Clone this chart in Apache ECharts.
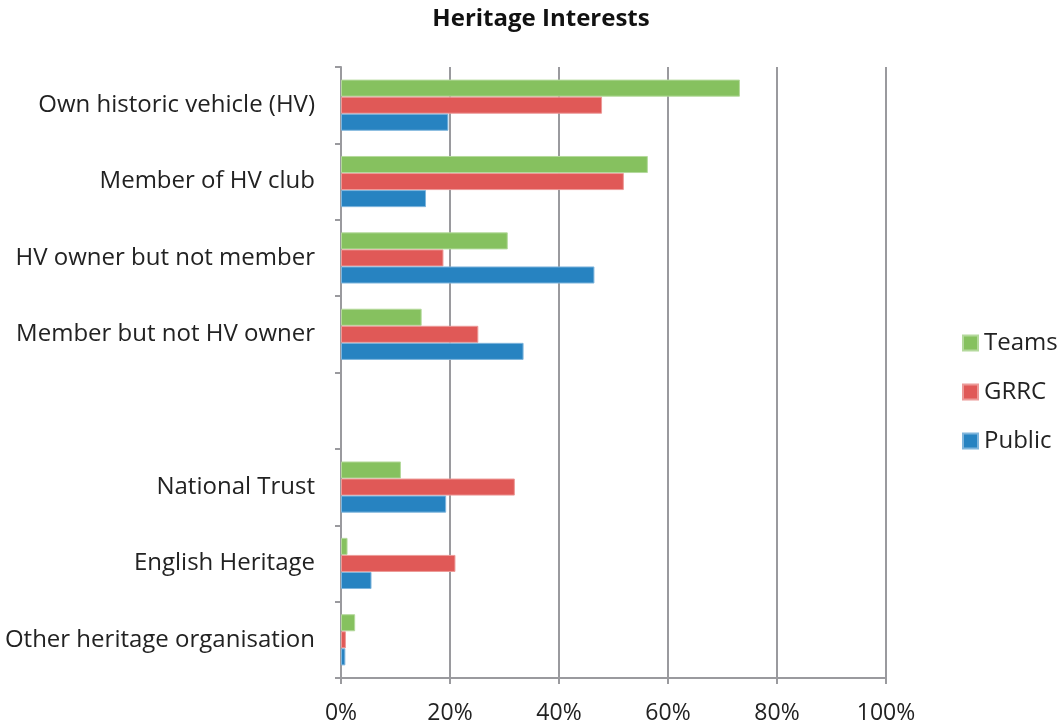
<!DOCTYPE html>
<html lang="en">
  <head>
    <meta charset="UTF-8" />
    <title>Heritage Interests</title>
    <style>
      * {
        margin: 0;
        padding: 0;
      }
      html,
      body {
        width: 100%;
        height: 100%;
        background: #fff;
      }
      #chart {
        width: 1057px;
        height: 727px;
      }
    </style>
    <script src="https://cdn.jsdelivr.net/npm/echarts@6/dist/echarts.min.js"></script>
  </head>
  <body>
    <div id="chart"></div>
    <script>
      // categories, top to bottom (the empty one is a spacer row)
      var categories = [
        "Own historic vehicle (HV)",
        "Member of HV club",
        "HV owner but not member",
        "Member but not HV owner",
        "",
        "National Trust",
        "English Heritage",
        "Other heritage organisation",
      ];
      // values in percent
      var teams = [73.2, 56.3, 30.6, 14.8, null, 11.0, 1.2, 2.6];
      var grrc = [47.9, 51.9, 18.8, 25.2, null, 31.9, 21.0, 0.9];
      var pub = [19.7, 15.6, 46.5, 33.5, null, 19.3, 5.6, 0.8];

      var font = "Open Sans";
      var axisGrey = "#9a9a9e";

      function barSeries(name, data, color, border) {
        return {
          name: name,
          type: "bar",
          data: data,
          barGap: "0%",
          barCategoryGap: "33%",
          itemStyle: {
            color: color,
            borderColor: border,
            borderWidth: 1,
          },
        };
      }

      var option = {
        backgroundColor: "#fff",
        animation: false,
        title: {
          text: "Heritage Interests",
          left: 536,
          textAlign: "center",
          top: 2,
          textStyle: {
            fontFamily: font,
            fontWeight: "bold",
            fontSize: 24,
            color: "#111",
          },
        },
        legend: {
          orient: "vertical",
          left: 962,
          top: 331,
          padding: 0,
          itemWidth: 15,
          itemHeight: 15,
          itemGap: 25,
          icon: "rect",
          data: ["Teams", "GRRC", "Public"],
          textStyle: {
            fontFamily: font,
            fontSize: 24,
            lineHeight: 24,
            color: "#222",
            padding: [0, 0, 0, 1],
          },
        },
        grid: {
          left: 341,
          right: 171,
          top: 67,
          bottom: 49,
          containLabel: false,
        },
        xAxis: {
          type: "value",
          min: 0,
          max: 100,
          interval: 20,
          axisLine: {
            show: true,
            lineStyle: { color: axisGrey, width: 2 },
          },
          axisTick: {
            show: true,
            length: 6,
            lineStyle: { color: axisGrey, width: 2 },
          },
          splitLine: {
            show: true,
            lineStyle: { color: axisGrey, width: 2 },
          },
          axisLabel: {
            formatter: "{value}%",
            fontFamily: font,
            fontSize: 23,
            color: "#222",
            margin: 24,
          },
        },
        yAxis: {
          type: "category",
          inverse: true,
          data: categories,
          axisLine: {
            show: true,
            lineStyle: { color: axisGrey, width: 2 },
          },
          axisTick: {
            show: true,
            length: 6,
            alignWithLabel: false,
            lineStyle: { color: axisGrey, width: 2 },
          },
          axisLabel: {
            fontFamily: font,
            fontSize: 24,
            color: "#222",
            margin: 26,
          },
        },
        series: [
          barSeries("Teams", teams, "#86c15f", "#b4d99c"),
          barSeries("GRRC", grrc, "#e05957", "#ec9a98"),
          barSeries("Public", pub, "#2783c1", "#7fb5dc"),
        ],
      };

      var myChart = echarts.init(document.getElementById("chart"));
      myChart.setOption(option);
    </script>
  </body>
</html>
